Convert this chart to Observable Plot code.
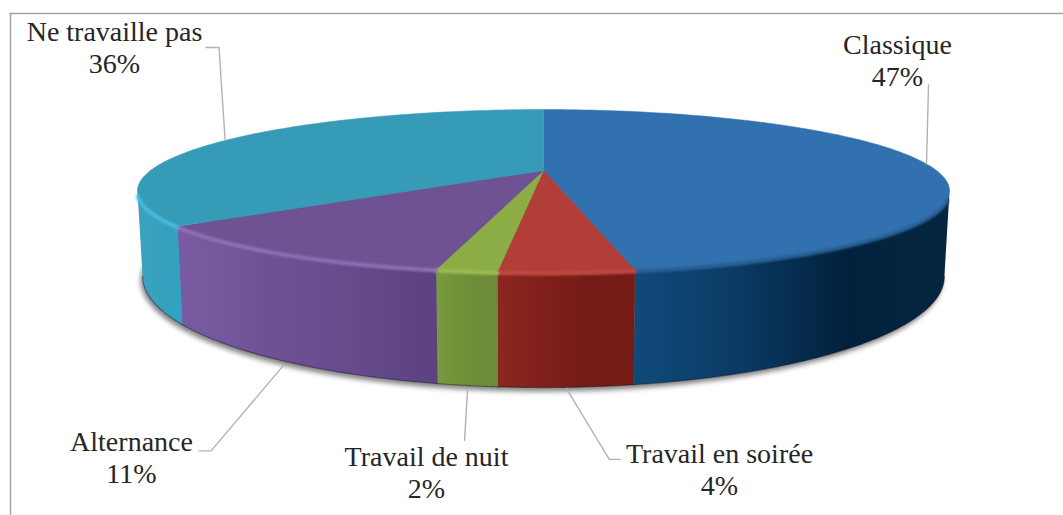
<!DOCTYPE html>
<html lang="fr">
<head>
<meta charset="utf-8">
<script src="https://cdn.jsdelivr.net/npm/d3@7"></script>
<script src="https://cdn.jsdelivr.net/npm/@observablehq/plot@0.6"></script>
<style>
html,body{margin:0;padding:0;background:#fff}
svg{display:block}
</style>
</head>
<body>
<div id="chart"></div>
<script>
// Data (order: clockwise from the top)
const categories = ["Classique", "Travail en soirée", "Travail de nuit", "Alternance", "Ne travaille pas"];
const shares = [47.2, 4.2, 1.9, 11.1, 35.6];

// Styling
const topColors = ["#3271b0", "#b13f37", "#8cad45", "#6f5293", "#359bb7"];
const rimColors = ["#2a6298", "#c04a42", "#9dbd52", "#8d70b4", "#45bbdf"];
const sideStops = [
  ["#0f4a7a", "#0b3a64", "#02213d", "#052640"],
  ["#8c2720", "#801f1a", "#741b16", "#741b16"],
  ["#7a9a40", "#729238", "#6e8c38", "#6e8c38"],
  ["#785ba2", "#6f5296", "#664a8c", "#5c4280"],
  ["#3aa2bc", "#3aa2bc", "#33a0bc", "#2fa4c4"]
];

// Projection of the tilted disc
const W = 1063, H = 515, cx = 543;
const persp = 0.2515, squash = 76.3;
const topPlane = {cy: 170, rx: 393, sy: 1};
const basePlane = {cy: 248, rx: 388, sy: 1.364};
const project = (deg, plane) => {
  const a = deg * Math.PI / 180, u = Math.sin(a), v = -Math.cos(a), k = 1 - persp * v;
  return {x: cx + plane.rx * u / k, y: plane.cy + plane.sy * squash * v / k};
};
const arc = (a0, a1, plane, n = 90) =>
  d3.range(n + 1).map(i => project(a0 + (a1 - a0) * i / n, plane));

let cum = 0;
const slices = categories.map((name, i) => {
  const a0 = cum * 3.6; cum += shares[i]; const a1 = cum * 3.6;
  return {name, i, a0, a1, mid: (a0 + a1) / 2, pct: Math.round(shares[i])};
});
const silR = 180 - Math.acos(persp) * 180 / Math.PI, silL = 360 - silR;

const topPoly = s => [{x: cx, y: topPlane.cy}, ...arc(s.a0, s.a1, topPlane, 120)];
const sidePoly = s => {
  const a0 = Math.max(s.a0, silR), a1 = Math.min(s.a1, silL);
  return [...arc(a0, a1, topPlane), ...arc(a1, a0, basePlane)];
};
const rimPoly = s => {
  const a0 = Math.max(s.a0, silR + 6), a1 = Math.min(s.a1, silL - 3);
  return arc(a0, a1, topPlane).map(p => ({x: p.x, y: p.y + 1}));
};

// Labels and leader lines, relative to the slice's mid-angle anchor on the rim or the base
const labelCenters = [[897, 59.5], [719, 468.5], [426, 471.5], [131, 456.5], [114, 46.5]];
const leaderLegs = [
  {plane: topPlane, legs: [[2, -79]], dy: 0},
  {plane: basePlane, legs: [[43, 71], [54, 71]], dy: 1},
  {plane: basePlane, legs: [[-3, 50]], dy: 5},
  {plane: basePlane, legs: [[-72, 85], [-84, 85]], dy: 5},
  {plane: topPlane, legs: [[-6, -92], [-19, -92]], dy: -1}
];
const leaders = slices.map(s => {
  const l = leaderLegs[s.i], p = project(s.mid, l.plane);
  const a = {x: p.x, y: p.y + l.dy};
  return [a, ...l.legs.map(([dx, dy]) => ({x: a.x + dx, y: a.y + dy}))];
});

const defs = () => {
  const d = d3.create("svg:defs");
  slices.forEach(s => {
    const g = d.append("linearGradient").attr("id", "side" + s.i);
    sideStops[s.i].forEach((c, j) =>
      g.append("stop").attr("offset", j / 3).attr("stop-color", c));
  });
  return d.node();
};

const xy = {x: "x", y: "y"};
const front = s => s.a1 > silR && s.a0 < silL;
const chart = Plot.plot({
  width: W, height: H, margin: 0,
  x: {domain: [0, W], range: [0, W], axis: null},
  y: {domain: [0, H], range: [0, H], axis: null},
  style: {background: "#fff"},
  marks: [
    defs,
    // chart frame
    Plot.ruleY([13], {x1: 9.5, x2: W, stroke: "#a3a3a3", strokeWidth: 1.5}),
    Plot.ruleX([10], {y1: 13, y2: H, stroke: "#a3a3a3", strokeWidth: 1.5}),
    // drop shadow, falling a little to the lower left
    Plot.line(arc(0, 360, basePlane, 240).map(p => ({x: p.x - 2, y: p.y + 4})),
      {...xy, fill: "#666", stroke: "none", fillOpacity: 0.8, imageFilter: "blur(2.5px)"}),
    // side walls
    ...slices.filter(front).map(s =>
      Plot.line(sidePoly(s), {...xy, fill: `url(#side${s.i})`, stroke: "none"})),
    // dark seam on the base edge
    ...slices.filter(front).map(s =>
      Plot.line(arc(Math.max(s.a0, silR), Math.min(s.a1, silL), basePlane),
        {...xy, stroke: "#0c0c20", strokeOpacity: 0.4, strokeWidth: 1.2, imageFilter: "blur(0.6px)"})),
    // top face
    ...slices.map(s =>
      Plot.line(topPoly(s), {...xy, fill: topColors[s.i], stroke: topColors[s.i], strokeWidth: 0.5})),
    // bevel highlight on the front rim
    ...slices.filter(front).map(s =>
      Plot.line(rimPoly(s), {...xy, stroke: rimColors[s.i], strokeWidth: 4, imageFilter: "blur(1.2px)"})),
    // leader lines
    ...leaders.map(pts =>
      Plot.line(pts, {...xy, stroke: "#b2b2b2", strokeWidth: 1.4, curve: "linear"})),
    // labels
    Plot.text(slices, {
      x: s => labelCenters[s.i][0],
      y: s => labelCenters[s.i][1],
      text: s => `${s.name}\n${s.pct}%`,
      fontFamily: "Liberation Serif",
      fontSize: 28,
      lineHeight: 1.12,
      fill: "#262626",
      textAnchor: "middle"
    })
  ]
});
document.getElementById("chart").append(chart);
</script>
</body>
</html>
